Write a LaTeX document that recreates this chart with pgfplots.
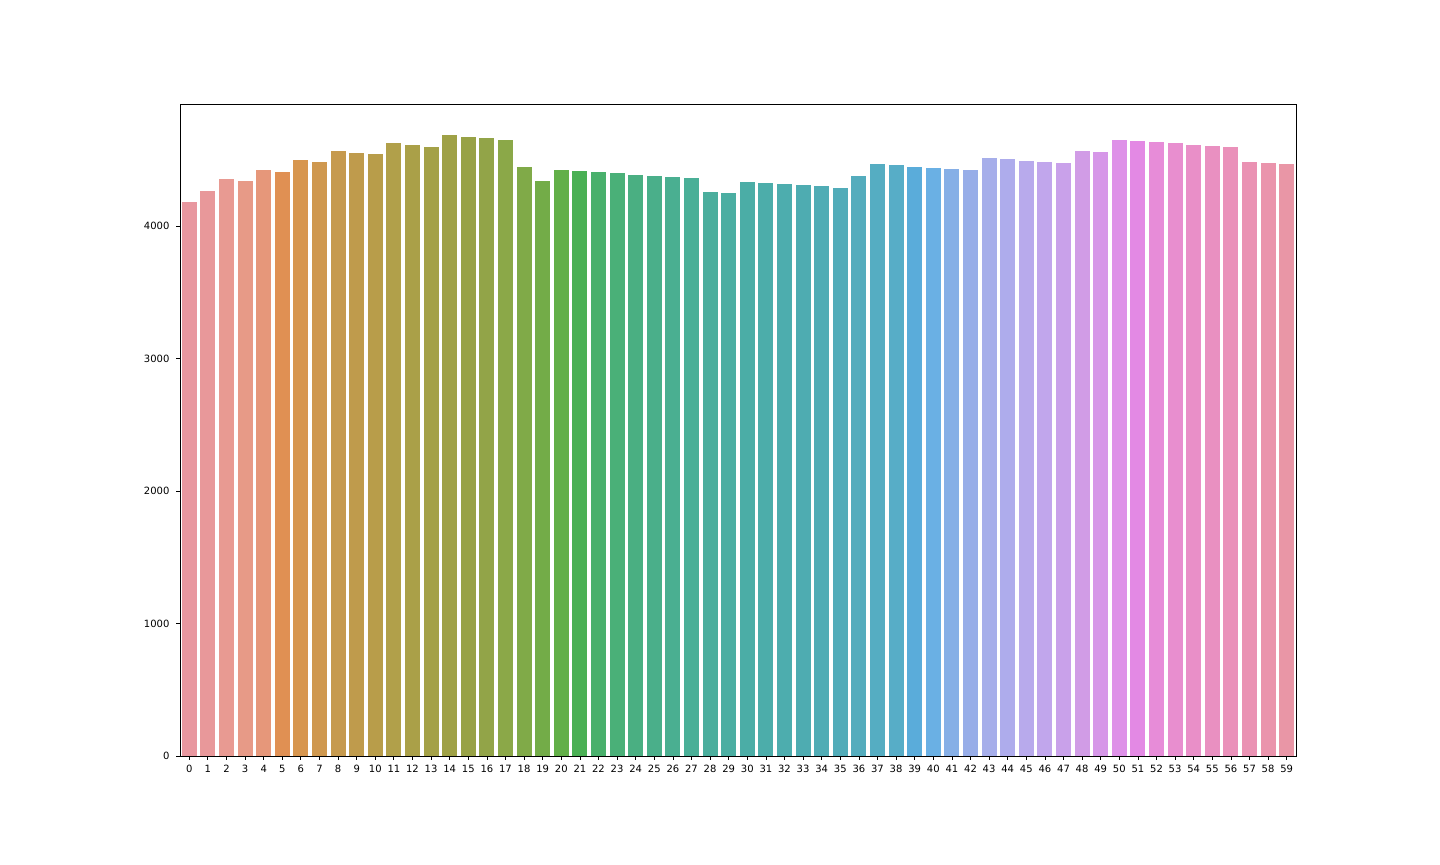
\documentclass[border=0pt]{standalone}
\usepackage{pgfplots}
\pgfplotsset{compat=1.18}
\usepackage{fontspec}
\setmainfont{DejaVu Sans}
\def\cols{E8979F,E8989A,E89A92,E79A87,E6977A,E09053,D7964F,CF984F,C69A4E,BF9B4C,B89D4A,B1A04A,AAA048,A4A147,9FA146,98A246,92A448,8BA848,80AA48,73AC48,62AF48,4AB054,49B06C,4AB078,4AAF82,4AAF8A,4AAF91,4AAF97,4BAE9D,4BAEA2,4BADA6,4CADAA,4DADAE,4EACB1,50ACB5,52ACB9,54ACBD,55ADC2,57ADC7,5AACDA,6AB0E4,86AFE6,97ADE8,A6AEEA,AEACEC,B8AAEC,C1A6EC,C9A1EA,D19CE6,D697E8,DE91E8,E389E4,E78CD8,E88ECF,E98FC8,E990C1,EA91BA,EA92B3,EA94AC,E996A6}
\newcount\ci \ci=0
\makeatletter
\@for\cc:=\cols\do{\definecolor{c\the\ci}{HTML}{\cc}\advance\ci by 1 }
\makeatother
\newcommand\B[3]{\addplot[fill=#3, draw=none] coordinates {(#1,#2)};}
\begin{document}
\begin{tikzpicture}
\path[use as bounding box] (-90pt,-54pt) rectangle (630pt,378pt);
\begin{axis}[
  at={(0pt,0pt)}, anchor=south west,
  scale only axis, width=558pt, height=326pt,
  xmin=-0.5, xmax=59.5, ymin=0, ymax=4921,
  ybar, bar width=7.44pt, bar shift=0pt,
  xtick={0,...,59}, ytick={0,1000,2000,3000,4000},
  scaled y ticks=false,
  /pgf/number format/assume math mode=true,
  /pgf/number format/set thousands separator={},
  tick label style={font=\fontsize{5pt}{6pt}\selectfont, text=black},
  xticklabel style={yshift=0.5pt},
  major tick length=1.75pt,
  tick align=outside, tick pos=left,
  axis line style={line width=0.4pt, black},
  every tick/.style={black, line width=0.4pt},
  clip=false,
]
\B{0}{4181}{c0}
\B{1}{4264}{c1}
\B{2}{4355}{c2}
\B{3}{4340}{c3}
\B{4}{4423}{c4}
\B{5}{4408}{c5}
\B{6}{4498}{c6}
\B{7}{4483}{c7}
\B{8}{4566}{c8}
\B{9}{4551}{c9}
\B{10}{4543}{c10}
\B{11}{4626}{c11}
\B{12}{4611}{c12}
\B{13}{4596}{c13}
\B{14}{4687}{c14}
\B{15}{4672}{c15}
\B{16}{4664}{c16}
\B{17}{4649}{c17}
\B{18}{4445}{c18}
\B{19}{4340}{c19}
\B{20}{4423}{c20}
\B{21}{4415}{c21}
\B{22}{4408}{c22}
\B{23}{4400}{c23}
\B{24}{4385}{c24}
\B{25}{4377}{c25}
\B{26}{4370}{c26}
\B{27}{4362}{c27}
\B{28}{4257}{c28}
\B{29}{4249}{c29}
\B{30}{4332}{c30}
\B{31}{4325}{c31}
\B{32}{4317}{c32}
\B{33}{4309}{c33}
\B{34}{4302}{c34}
\B{35}{4287}{c35}
\B{36}{4377}{c36}
\B{37}{4468}{c37}
\B{38}{4460}{c38}
\B{39}{4445}{c39}
\B{40}{4438}{c40}
\B{41}{4430}{c41}
\B{42}{4423}{c42}
\B{43}{4513}{c43}
\B{44}{4506}{c44}
\B{45}{4491}{c45}
\B{46}{4483}{c46}
\B{47}{4475}{c47}
\B{48}{4566}{c48}
\B{49}{4558}{c49}
\B{50}{4649}{c50}
\B{51}{4642}{c51}
\B{52}{4634}{c52}
\B{53}{4626}{c53}
\B{54}{4611}{c54}
\B{55}{4604}{c55}
\B{56}{4596}{c56}
\B{57}{4483}{c57}
\B{58}{4475}{c58}
\B{59}{4468}{c59}
\end{axis}
\end{tikzpicture}
\end{document}
